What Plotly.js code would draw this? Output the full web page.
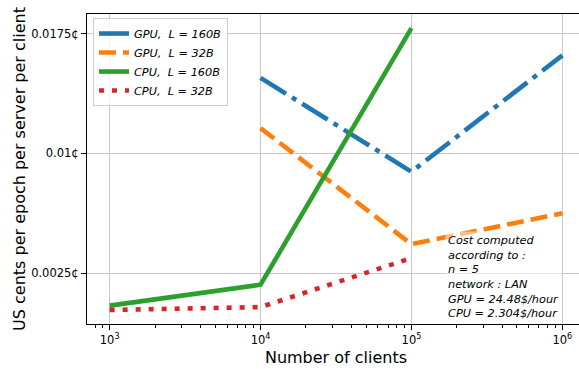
<!DOCTYPE html>
<html>
<head>
<meta charset="utf-8">
<script src="https://cdn.plot.ly/plotly-3.0.1.min.js"></script>
<style>
html,body{margin:0;padding:0;background:#fff;overflow:hidden;}
#wrap{width:579px;height:369px;overflow:hidden;position:relative;}
#chart{width:600px;height:369px;}
</style>
</head>
<body>
<div id="wrap"><div id="chart"></div></div>
<script>
// Data (US cents per epoch per server per client)
const clientsAll = [1e3, 1e4, 1e5, 1e6];
const clientsGPU = [1e4, 1e5, 1e6];
const clientsCPU = [1e3, 1e4, 1e5];
const gpu160 = [0.01473, 0.00885, 0.01614];
const gpu32  = [0.01158, 0.00431, 0.00625];
const cpu160 = [0.00046, 0.00177, 0.01785];
const cpu32  = [0.00019, 0.00037, 0.00344];

const seriesNames = [
  '<i>GPU,  L = 160B</i>',
  '<i>GPU,  L = 32B</i>',
  '<i>CPU,  L = 160B</i>',
  '<i>CPU,  L = 32B</i>'
];
const yTickVals = [0.0025, 0.01, 0.0175];
const yTickText = ['0.0025¢', '0.01¢', '0.0175¢'];
const xTickVals = clientsAll;
const xTickText = ['10<sup>3</sup>', '10<sup>4</sup>', '10<sup>5</sup>', '10<sup>6</sup>'];
const noteLines = [
  'Cost computed',
  'according to :',
  'n = 5',
  'network : LAN',
  'GPU = 24.48$/hour',
  'CPU = 2.304$/hour'
];

const LW = 4.6;
const traces = [
  {x: clientsGPU, y: gpu160, name: seriesNames[0], mode: 'lines',
   line: {color: '#1f77b4', width: LW, dash: '30px,7px,5px,7px'}},
  {x: clientsGPU, y: gpu32, name: seriesNames[1], mode: 'lines',
   line: {color: '#ff7f0e', width: LW, dash: '17px,7px'}},
  {x: clientsCPU, y: cpu160, name: seriesNames[2], mode: 'lines',
   line: {color: '#2ca02c', width: LW}},
  {x: clientsCPU, y: cpu32, name: seriesNames[3], mode: 'lines',
   line: {color: '#d62728', width: LW, dash: '5px,8px'}}
];

const layout = {
  width: 600, height: 369,
  margin: {l: 87, r: 15, t: 14, b: 45, pad: 0},
  paper_bgcolor: '#fff', plot_bgcolor: '#fff',
  font: {family: 'DejaVu Sans', color: '#000', size: 11.5},
  showlegend: true,
  legend: {
    x: 0.012, y: 0.987, xanchor: 'left', yanchor: 'top',
    bgcolor: 'rgba(255,255,255,0.8)', bordercolor: '#cccccc', borderwidth: 1,
    font: {family: 'DejaVu Sans', size: 11.3, color: '#000'},
    itemwidth: 30, tracegroupgap: 0
  },
  xaxis: {
    type: 'log', range: [Math.log10(1e3) - 0.15, Math.log10(1e6) + 0.15],
    tickvals: xTickVals, ticktext: xTickText,
    ticks: 'outside', ticklen: 5, tickwidth: 1, tickcolor: '#000',
    showline: true, linecolor: '#000', linewidth: 1, mirror: true,
    showgrid: true, gridcolor: '#c8c8c8', gridwidth: 1,
    zeroline: false,
    tickfont: {size: 11.5},
    minor: {ticks: 'outside', ticklen: 2.7, tickcolor: '#000', dtick: 'D1', showgrid: false},
    title: {text: 'Number of clients', font: {size: 16}, standoff: 6}
  },
  yaxis: {
    range: [-0.00069, 0.01873],
    tickvals: yTickVals, ticktext: yTickText,
    ticks: 'outside', ticklen: 5, tickwidth: 1, tickcolor: '#000',
    showline: true, linecolor: '#000', linewidth: 1, mirror: true,
    showgrid: true, gridcolor: '#c8c8c8', gridwidth: 1,
    zeroline: false,
    tickfont: {size: 11.5},
    title: {text: 'US cents per epoch per server per client', font: {size: 16}, standoff: 1}
  },
  annotations: [{
    xref: 'paper', yref: 'paper', x: 0.718, y: 0.3,
    xanchor: 'left', yanchor: 'top', align: 'left', showarrow: false,
    text: noteLines.map(s => '<i>' + s + '</i>').join('<br>'),
    font: {family: 'DejaVu Sans', size: 11.3, color: '#000'},
    bgcolor: 'rgba(255,255,255,0.5)', borderpad: 2
  }]
};

Plotly.newPlot('chart', traces, layout, {staticPlot: true, displayModeBar: false});
</script>
</body>
</html>
